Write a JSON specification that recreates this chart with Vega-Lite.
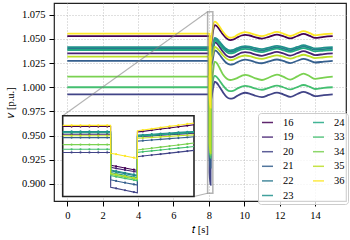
{
  "$schema": "https://vega.github.io/schema/vega-lite/v6.json",
  "width": 292,
  "height": 198,
  "autosize": {"type": "none"},
  "padding": {"left": 54, "top": 3, "right": 4, "bottom": 39},
  "background": "white",
  "config": {
    "view": {"stroke": "#222222", "strokeWidth": 1.2},
    "font": "Liberation Serif",
    "axis": {"labelFont": "Liberation Serif", "labelFontSize": 10.5, "labelColor": "#000000", "labelOverlap": false, "titleFont": "Liberation Serif", "titleFontSize": 10.5, "titleFontWeight": "normal", "titleColor": "#000000", "tickColor": "#000000", "tickSize": 5, "tickWidth": 1, "domain": false, "grid": true, "gridColor": "#b0b0b0", "gridDash": [1, 2], "gridWidth": 0.8, "labelPadding": 4},
    "axisX": {"titlePadding": 4},
    "axisY": {"titlePadding": 6},
    "legend": {"orient": "none", "legendX": 204, "legendY": 110, "columns": 2, "symbolType": "stroke", "symbolSize": 121, "symbolStrokeWidth": 1.5, "symbolOpacity": 0.85, "labelFont": "Liberation Serif", "labelFontSize": 10.5, "labelColor": "#000000", "labelOffset": 9, "columnPadding": 16, "rowPadding": 2.6, "padding": 3, "fillColor": "rgba(255,255,255,0.8)", "strokeColor": "#cccccc", "cornerRadius": 3}
  },
  "datasets": {
    "main": [
      {"t":0,"16":1.0528,"19":1.035,"20":0.9927,"21":1.0272,"22":1.04,"23":1.0415,"24":1.0385,"33":1.0,"34":1.0109,"35":1.0316,"36":1.0555},
      {"t":8.0377,"16":1.0528,"19":1.035,"20":0.9927,"21":1.0272,"22":1.04,"23":1.0415,"24":1.0385,"33":1.0,"34":1.0109,"35":1.0316,"36":1.0555},
      {"t":8.0378,"16":0.963,"19":0.958,"20":0.912,"21":0.929,"22":0.95,"23":0.952,"24":0.946,"33":0.939,"34":0.942,"35":0.944,"36":0.991},
      {"t":8.0978,"16":0.951,"19":0.947,"20":0.899,"21":0.917,"22":0.938,"23":0.94,"24":0.934,"33":0.927,"34":0.93,"35":0.932,"36":0.979},
      {"t":8.0979,"16":1.04,"19":1.029,"20":0.983,"21":1.019,"22":1.031,"23":1.033,"24":1.03,"33":0.993,"34":0.9985,"35":1.0255,"36":1.043},
      {"t":8.16,"16":1.0483,"19":1.0332,"20":0.9901,"21":1.0239,"22":1.0354,"23":1.0372,"24":1.0344,"33":0.9996,"34":1.0063,"35":1.0294,"36":1.0518},
      {"t":8.225,"16":1.057,"19":1.0375,"20":0.9975,"21":1.029,"22":1.04,"23":1.0415,"24":1.039,"33":1.0065,"34":1.0145,"35":1.0335,"36":1.061},
      {"t":8.33,"16":1.0643,"19":1.0465,"20":1.0057,"21":1.0382,"22":1.0495,"23":1.051,"24":1.0485,"33":1.0117,"34":1.0264,"35":1.0416,"36":1.0678},
      {"t":8.45,"16":1.0632,"19":1.0454,"20":1.0044,"21":1.0371,"22":1.0486,"23":1.0501,"24":1.0475,"33":1.0105,"34":1.0249,"35":1.0406,"36":1.0666},
      {"t":8.6,"16":1.0597,"19":1.0419,"20":1.0005,"21":1.0338,"22":1.0457,"23":1.0472,"24":1.0445,"33":1.007,"34":1.0202,"35":1.0376,"36":1.0629},
      {"t":8.8,"16":1.0545,"19":1.0367,"20":0.9947,"21":1.0289,"22":1.0414,"23":1.0429,"24":1.04,"33":1.0018,"34":1.0132,"35":1.0331,"36":1.0573},
      {"t":9.0,"16":1.0505,"19":1.0327,"20":0.9901,"21":1.025,"22":1.0381,"23":1.0396,"24":1.0365,"33":0.9977,"34":1.009,"35":1.0296,"36":1.053},
      {"t":9.2,"16":1.0488,"19":1.031,"20":0.9882,"21":1.0234,"22":1.0367,"23":1.0382,"24":1.035,"33":0.9959,"34":1.0075,"35":1.0281,"36":1.0512},
      {"t":9.4,"16":1.0494,"19":1.0316,"20":0.9888,"21":1.0239,"22":1.0372,"23":1.0387,"24":1.0355,"33":0.9965,"34":1.0081,"35":1.0286,"36":1.0518},
      {"t":9.6,"16":1.0514,"19":1.0336,"20":0.9911,"21":1.0259,"22":1.0389,"23":1.0404,"24":1.0373,"33":0.9986,"34":1.0095,"35":1.0304,"36":1.054},
      {"t":9.85,"16":1.0535,"19":1.0357,"20":0.9935,"21":1.0279,"22":1.0406,"23":1.0421,"24":1.0391,"33":1.0007,"34":1.0118,"35":1.0322,"36":1.0562},
      {"t":10.06,"16":1.0542,"19":1.0364,"20":0.9943,"21":1.0285,"22":1.0411,"23":1.0426,"24":1.0397,"33":1.0014,"34":1.0128,"35":1.0328,"36":1.057},
      {"t":10.3,"16":1.0535,"19":1.0357,"20":0.9935,"21":1.0279,"22":1.0406,"23":1.0421,"24":1.0391,"33":1.0007,"34":1.0118,"35":1.0322,"36":1.0562},
      {"t":10.6,"16":1.0517,"19":1.0339,"20":0.9914,"21":1.0261,"22":1.0391,"23":1.0406,"24":1.0375,"33":0.9988,"34":1.0094,"35":1.0306,"36":1.0543},
      {"t":11.0,"16":1.0503,"19":1.0325,"20":0.9898,"21":1.0248,"22":1.0379,"23":1.0394,"24":1.0363,"33":0.9974,"34":1.0075,"35":1.0294,"36":1.0528},
      {"t":11.4,"16":1.0522,"19":1.0344,"20":0.9921,"21":1.0267,"22":1.0395,"23":1.041,"24":1.038,"33":0.9994,"34":1.0101,"35":1.0311,"36":1.0549},
      {"t":11.85,"16":1.0544,"19":1.0366,"20":0.9945,"21":1.0287,"22":1.0413,"23":1.0428,"24":1.0399,"33":1.0016,"34":1.0131,"35":1.033,"36":1.0572},
      {"t":12.2,"16":1.0528,"19":1.035,"20":0.9927,"21":1.0272,"22":1.04,"23":1.0415,"24":1.0385,"33":1.0,"34":1.0109,"35":1.0316,"36":1.0555},
      {"t":12.6,"16":1.0505,"19":1.0327,"20":0.9901,"21":1.025,"22":1.0381,"23":1.0396,"24":1.0365,"33":0.9977,"34":1.0078,"35":1.0296,"36":1.053},
      {"t":13.0,"16":1.053,"19":1.0352,"20":0.993,"21":1.0274,"22":1.0402,"23":1.0417,"24":1.0387,"33":1.0002,"34":1.0112,"35":1.0318,"36":1.0557},
      {"t":13.35,"16":1.0551,"19":1.0373,"20":0.9953,"21":1.0294,"22":1.0419,"23":1.0434,"24":1.0405,"33":1.0023,"34":1.014,"35":1.0336,"36":1.058},
      {"t":13.7,"16":1.0531,"19":1.0353,"20":0.9931,"21":1.0275,"22":1.0403,"23":1.0418,"24":1.0388,"33":1.0004,"34":1.0114,"35":1.0319,"36":1.0559},
      {"t":14.0,"16":1.0511,"19":1.0333,"20":0.9908,"21":1.0256,"22":1.0386,"23":1.0401,"24":1.037,"33":0.9982,"34":1.0086,"35":1.0301,"36":1.0537},
      {"t":14.5,"16":1.0521,"19":1.0343,"20":0.9919,"21":1.0265,"22":1.0394,"23":1.0409,"24":1.0379,"33":0.9993,"34":1.01,"35":1.031,"36":1.0548},
      {"t":15.0,"16":1.0528,"19":1.035,"20":0.9927,"21":1.0272,"22":1.04,"23":1.0415,"24":1.0385,"33":1.0,"34":1.0109,"35":1.0316,"36":1.0555}
    ],
    "inset": [
      {"t":7.93,"s":0,"16":1.0528,"19":1.035,"20":0.9927,"21":1.0272,"22":1.04,"23":1.0415,"24":1.0385,"33":1.0,"34":1.0109,"35":1.0316,"36":1.0555},
      {"t":7.95,"s":1,"16":1.0528,"19":1.035,"20":0.9927,"21":1.0272,"22":1.04,"23":1.0415,"24":1.0385,"33":1.0,"34":1.0109,"35":1.0316,"36":1.0555},
      {"t":7.97,"s":1,"16":1.0528,"19":1.035,"20":0.9927,"21":1.0272,"22":1.04,"23":1.0415,"24":1.0385,"33":1.0,"34":1.0109,"35":1.0316,"36":1.0555},
      {"t":7.99,"s":1,"16":1.0528,"19":1.035,"20":0.9927,"21":1.0272,"22":1.04,"23":1.0415,"24":1.0385,"33":1.0,"34":1.0109,"35":1.0316,"36":1.0555},
      {"t":8.01,"s":1,"16":1.0528,"19":1.035,"20":0.9927,"21":1.0272,"22":1.04,"23":1.0415,"24":1.0385,"33":1.0,"34":1.0109,"35":1.0316,"36":1.0555},
      {"t":8.03,"s":1,"16":1.0528,"19":1.035,"20":0.9927,"21":1.0272,"22":1.04,"23":1.0415,"24":1.0385,"33":1.0,"34":1.0109,"35":1.0316,"36":1.0555},
      {"t":8.0377,"s":0,"16":1.0528,"19":1.035,"20":0.9927,"21":1.0272,"22":1.04,"23":1.0415,"24":1.0385,"33":1.0,"34":1.0109,"35":1.0316,"36":1.0555},
      {"t":8.0378,"s":0,"16":0.963,"19":0.958,"20":0.912,"21":0.929,"22":0.95,"23":0.952,"24":0.946,"33":0.939,"34":0.942,"35":0.944,"36":0.991},
      {"t":8.05,"s":1,"16":0.9606,"19":0.9558,"20":0.9094,"21":0.9266,"22":0.9476,"23":0.9496,"24":0.9436,"33":0.9366,"34":0.9396,"35":0.9416,"36":0.9886},
      {"t":8.07,"s":1,"16":0.9566,"19":0.9521,"20":0.905,"21":0.9226,"22":0.9436,"23":0.9456,"24":0.9396,"33":0.9326,"34":0.9356,"35":0.9376,"36":0.9846},
      {"t":8.09,"s":1,"16":0.9526,"19":0.9484,"20":0.9007,"21":0.9186,"22":0.9396,"23":0.9416,"24":0.9356,"33":0.9286,"34":0.9316,"35":0.9336,"36":0.9806},
      {"t":8.0978,"s":0,"16":0.951,"19":0.947,"20":0.899,"21":0.917,"22":0.938,"23":0.94,"24":0.934,"33":0.927,"34":0.93,"35":0.932,"36":0.979},
      {"t":8.0979,"s":0,"16":1.04,"19":1.029,"20":0.983,"21":1.019,"22":1.031,"23":1.033,"24":1.03,"33":0.993,"34":0.9985,"35":1.0255,"36":1.043},
      {"t":8.11,"s":1,"16":1.0416,"19":1.0298,"20":0.9844,"21":1.02,"22":1.0319,"23":1.0338,"24":1.0309,"33":0.9943,"34":1.0,"35":1.0263,"36":1.0447},
      {"t":8.13,"s":1,"16":1.0443,"19":1.0311,"20":0.9867,"21":1.0215,"22":1.0333,"23":1.0351,"24":1.0323,"33":0.9964,"34":1.0025,"35":1.0275,"36":1.0475},
      {"t":8.15,"s":1,"16":1.047,"19":1.0325,"20":0.9889,"21":1.0231,"22":1.0347,"23":1.0365,"24":1.0337,"33":0.9985,"34":1.0051,"35":1.0288,"36":1.0504},
      {"t":8.17,"s":1,"16":1.0496,"19":1.0338,"20":0.9912,"21":1.0247,"22":1.0361,"23":1.0378,"24":1.0351,"33":1.0007,"34":1.0076,"35":1.03,"36":1.0532},
      {"t":8.19,"s":1,"16":1.0523,"19":1.0352,"20":0.9935,"21":1.0262,"22":1.0375,"23":1.0392,"24":1.0365,"33":1.0028,"34":1.0101,"35":1.0313,"36":1.056},
      {"t":8.21,"s":1,"16":1.055,"19":1.0365,"20":0.9958,"21":1.0278,"22":1.0389,"23":1.0405,"24":1.0379,"33":1.0049,"34":1.0126,"35":1.0326,"36":1.0589},
      {"t":8.225,"s":0,"16":1.057,"19":1.0375,"20":0.9975,"21":1.029,"22":1.04,"23":1.0415,"24":1.039,"33":1.0065,"34":1.0145,"35":1.0335,"36":1.061}
    ],
    "box": [{"t0": 7.93, "t1": 8.225, "v0": 0.8905, "v1": 1.078}],
    "conn": [
      {"ta": -0.258, "va": 0.9706, "tb": 7.93, "vb": 1.078},
      {"ta": 7.161, "va": 0.8871, "tb": 7.93, "vb": 0.8905}
    ]
  },
  "layer": [
    {
      "layer": [
        {
          "data": {"name": "main"},
          "transform": [{"fold": ["16","19","20","21","22","23","24","33","34","35","36"], "as": ["bus", "v"]}],
          "mark": {"type": "line", "interpolate": "monotone", "strokeWidth": 1.8},
          "encoding": {
            "x": {"field": "t", "type": "quantitative", "scale": {"domain": [-0.75, 15.75], "nice": false, "zero": false}, "axis": {"values": [0,2,4,6,8,10,12,14], "tickCount": 20, "labelOverlap": false, "title": "𝑡 [s]"}},
            "y": {"field": "v", "type": "quantitative", "scale": {"domain": [0.8824, 1.0871], "nice": false, "zero": false}, "axis": {"values": [0.9,0.925,0.95,0.975,1.0,1.025,1.05,1.075], "tickCount": 20, "format": ".3f", "labelOverlap": false, "title": "𝑣 [p.u.]"}},
            "color": {"field": "bus", "type": "nominal", "title": null, "scale": {"domain": ["16","19","20","21","22","23","24","33","34","35","36"], "range": ["#440154","#482475","#414487","#355f8d","#2a788e","#21918c","#22a884","#44bf70","#7ad151","#bddf26","#fde725"]}}
          }
        },
        {
          "data": {"name": "box"},
          "mark": {"type": "rect", "fill": "white", "fillOpacity": 0, "stroke": "#808080", "strokeOpacity": 0.6, "strokeWidth": 1.5},
          "encoding": {
            "x": {"field": "t0", "type": "quantitative"}, "x2": {"field": "t1"},
            "y": {"field": "v0", "type": "quantitative"}, "y2": {"field": "v1"}
          }
        },
        {
          "data": {"name": "conn"},
          "mark": {"type": "rule", "stroke": "#808080", "strokeOpacity": 0.6, "strokeWidth": 1.1},
          "encoding": {
            "x": {"field": "ta", "type": "quantitative"}, "x2": {"field": "tb"},
            "y": {"field": "va", "type": "quantitative"}, "y2": {"field": "vb"}
          }
        }
      ]
    },
    {
      "layer": [
        {
          "data": {"name": "box"},
          "mark": {"type": "rect", "fill": "white", "stroke": "#222222", "strokeWidth": 1.6},
          "encoding": {
            "x": {"field": "t0", "type": "quantitative", "scale": {"domain": [7.93, 8.225], "range": [8.7, 140], "nice": false, "zero": false}, "axis": null},
            "x2": {"field": "t1"},
            "y": {"field": "v0", "type": "quantitative", "scale": {"domain": [0.8905, 1.078], "range": [193.5, 112.7], "nice": false, "zero": false}, "axis": null},
            "y2": {"field": "v1"}
          }
        },
        {
          "data": {"name": "inset"},
          "transform": [{"fold": ["16","19","20","21","22","23","24","33","34","35","36"], "as": ["bus", "v"]}],
          "mark": {"type": "line", "strokeWidth": 1.1},
          "encoding": {
            "x": {"field": "t", "type": "quantitative", "axis": null},
            "y": {"field": "v", "type": "quantitative", "axis": null},
            "color": {"field": "bus", "type": "nominal", "title": null}
          }
        },
        {
          "data": {"name": "inset"},
          "transform": [{"fold": ["16","19","20","21","22","23","24","33","34","35","36"], "as": ["bus", "v"]}, {"filter": "datum.s == 1"}],
          "mark": {"type": "circle", "size": 5, "opacity": 1},
          "encoding": {
            "x": {"field": "t", "type": "quantitative", "axis": null},
            "y": {"field": "v", "type": "quantitative", "axis": null},
            "color": {"field": "bus", "type": "nominal", "title": null}
          }
        }
      ]
    }
  ],
  "resolve": {"scale": {"x": "independent", "y": "independent"}}
}
